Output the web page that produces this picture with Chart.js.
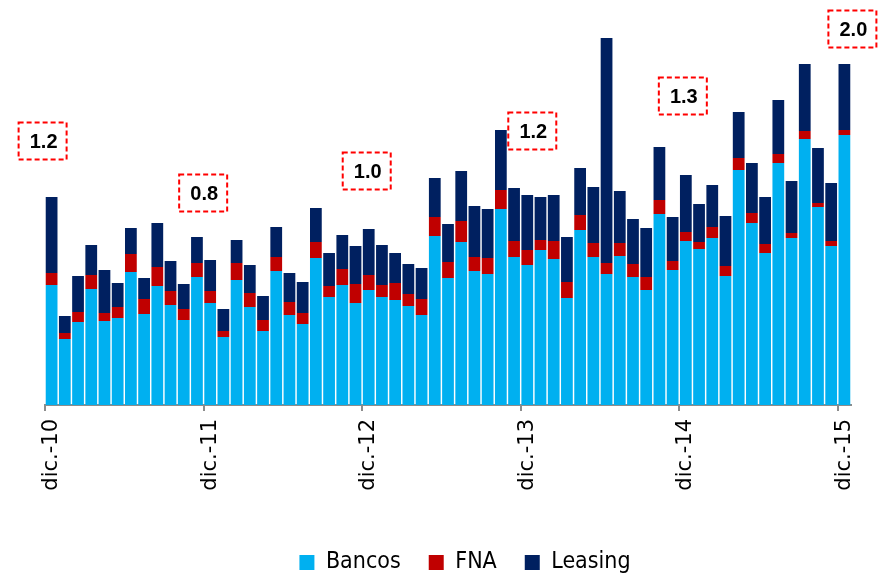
<!DOCTYPE html>
<html>
<head>
<meta charset="utf-8">
<script src="https://cdn.jsdelivr.net/npm/chart.js@4/dist/chart.umd.min.js"></script>
<style>
  html, body { margin: 0; padding: 0; background: #fff; }
  #wrap { width: 887px; height: 576px; position: relative; }
</style>
</head>
<body>
<div id="wrap"><canvas id="creditChart"></canvas></div>
<script>
// monthly categories dic.-10 .. dic.-15
const months = [
  'dic.-10',
  'ene.-11', 'feb.-11', 'mar.-11', 'abr.-11', 'may.-11', 'jun.-11', 'jul.-11', 'ago.-11', 'sep.-11', 'oct.-11', 'nov.-11', 'dic.-11',
  'ene.-12', 'feb.-12', 'mar.-12', 'abr.-12', 'may.-12', 'jun.-12', 'jul.-12', 'ago.-12', 'sep.-12', 'oct.-12', 'nov.-12', 'dic.-12',
  'ene.-13', 'feb.-13', 'mar.-13', 'abr.-13', 'may.-13', 'jun.-13', 'jul.-13', 'ago.-13', 'sep.-13', 'oct.-13', 'nov.-13', 'dic.-13',
  'ene.-14', 'feb.-14', 'mar.-14', 'abr.-14', 'may.-14', 'jun.-14', 'jul.-14', 'ago.-14', 'sep.-14', 'oct.-14', 'nov.-14', 'dic.-14',
  'ene.-15', 'feb.-15', 'mar.-15', 'abr.-15', 'may.-15', 'jun.-15', 'jul.-15', 'ago.-15', 'sep.-15', 'oct.-15', 'nov.-15', 'dic.-15'
];

const bancos = [
  12.0,
  6.6, 8.3, 11.6, 8.4, 8.7, 13.3, 9.1, 11.9, 10.0, 8.5, 12.8, 10.2,
  6.8, 12.5, 9.8, 7.4, 13.4, 9.0, 8.1, 14.7, 10.8, 12.0, 10.2, 11.5,
  10.8, 10.5, 9.9, 9.0, 16.9, 12.7, 16.3, 13.4, 13.1, 19.6, 14.8, 14.0,
  15.5, 14.6, 10.7, 17.5, 14.8, 13.1, 14.9, 12.8, 11.5, 19.1, 13.5, 16.4,
  15.6, 16.7, 12.9, 23.5, 18.2, 15.2, 24.2, 16.7, 26.6, 19.8, 15.9, 27.0
];

const fna = [
  1.2,
  0.6, 1.0, 1.4, 0.8, 1.1, 1.8, 1.5, 1.9, 1.4, 1.1, 1.4, 1.2,
  0.6, 1.7, 1.4, 1.1, 1.4, 1.3, 1.1, 1.6, 1.1, 1.6, 1.9, 1.5,
  1.2, 1.7, 1.2, 1.6, 1.9, 1.6, 2.1, 1.4, 1.6, 1.9, 1.6, 1.5,
  1.0, 1.8, 1.6, 1.5, 1.4, 1.1, 1.3, 1.3, 1.3, 1.4, 0.9, 0.9,
  0.7, 1.1, 1.0, 1.2, 1.0, 0.9, 0.9, 0.5, 0.8, 0.4, 0.5, 0.5
];

const leasing = [
  7.6,
  1.7, 3.6, 3.0, 4.3, 2.4, 2.6, 2.1, 4.4, 3.0, 2.5, 2.6, 3.1,
  2.2, 2.3, 2.8, 2.4, 3.0, 2.9, 3.1, 3.4, 3.3, 3.4, 3.8, 4.6,
  4.0, 3.0, 3.0, 3.1, 3.9, 3.8, 5.0, 5.1, 4.9, 6.0, 5.3, 5.5,
  4.3, 4.6, 4.5, 4.7, 5.6, 22.5, 5.2, 4.5, 4.9, 5.3, 4.4, 5.7,
  3.8, 4.2, 5.0, 4.6, 5.0, 4.7, 5.4, 5.2, 6.7, 5.5, 5.8, 6.6
];

// boxed callouts at each December
const calloutIdx = [0, 12, 24, 36, 48, 60];
const calloutText = ['1.2', '0.8', '1.0', '1.2', '1.3', '2.0'];

// where each callout box sits (x shift in px, height in y units)
const calloutLayout = [
  { dx: -9, level: 26.4 },
  { dx: -7, level: 21.2 },
  { dx: -2, level: 23.4 },
  { dx: 5, level: 27.4 },
  { dx: -3, level: 30.9 },
  { dx: 8, level: 37.6 }
];

const calloutPlugin = {
  id: 'callouts',
  afterDraw(chart) {
    const ctx = chart.ctx;
    const xs = chart.scales.x;
    const ys = chart.scales.y;
    const w = 48, h = 37;
    ctx.save();
    calloutIdx.forEach((idx, i) => {
      const cx = xs.getPixelForValue(idx) + calloutLayout[i].dx;
      const cy = ys.getPixelForValue(calloutLayout[i].level);
      ctx.fillStyle = '#fff';
      ctx.fillRect(cx - w / 2, cy - h / 2, w, h);
      ctx.setLineDash([5, 3]);
      ctx.strokeStyle = '#ff0000';
      ctx.lineWidth = 2;
      ctx.strokeRect(cx - w / 2, cy - h / 2, w, h);
      ctx.setLineDash([]);
      ctx.fillStyle = '#000';
      ctx.font = 'bold 20px "Liberation Sans", Arial, sans-serif';
      ctx.textAlign = 'center';
      ctx.textBaseline = 'middle';
      ctx.fillText(calloutText[i], cx + 1, cy + 1);
    });
    ctx.restore();
  }
};

// legend sits a bit right of the plot centre in the original
const legendShift = {
  id: 'legendShift',
  afterLayout(chart) {
    chart.legend.left += 17;
    chart.legend.right += 17;
  }
};

const ctx = document.getElementById('creditChart').getContext('2d');

new Chart(ctx, {
  type: 'bar',
  data: {
    labels: months,
    datasets: [
      { label: 'Bancos', data: bancos, backgroundColor: '#00b0f0' },
      { label: 'FNA', data: fna, backgroundColor: '#c00000' },
      { label: 'Leasing', data: leasing, backgroundColor: '#002060' }
    ]
  },
  options: {
    responsive: true,
    maintainAspectRatio: false,
    animation: false,
    datasets: {
      bar: { categoryPercentage: 1.0, barPercentage: 0.89 }
    },
    layout: {
      padding: { left: 45, right: 36, top: 25, bottom: -8 }
    },
    scales: {
      x: {
        stacked: true,
        afterFit: s => { s.height = 118; },
        grid: {
          offset: true,
          drawOnChartArea: false,
          tickLength: 6,
          lineWidth: 2,
          color: c => (c.index % 12 === 0 ? '#8c8c8c' : 'rgba(0,0,0,0)')
        },
        border: { display: true, color: '#8c8c8c', width: 2 },
        ticks: {
          autoSkip: false,
          minRotation: 90,
          maxRotation: 90,
          padding: 8,
          color: '#000',
          font: { family: '"DejaVu Sans", sans-serif', size: 21 },
          callback: (v, i) => (i % 12 === 0 ? months[i] : '')
        }
      },
      y: {
        display: false,
        stacked: true,
        min: 0,
        max: 38
      }
    },
    plugins: {
      legend: {
        position: 'bottom',
        labels: {
          boxWidth: 15,
          boxHeight: 15,
          padding: 28,
          color: '#000',
          font: { family: '"DejaVu Sans Condensed", "Liberation Sans Narrow", sans-serif', size: 23 }
        }
      },
      tooltip: { enabled: false }
    }
  },
  plugins: [calloutPlugin, legendShift]
});
</script>
</body>
</html>
